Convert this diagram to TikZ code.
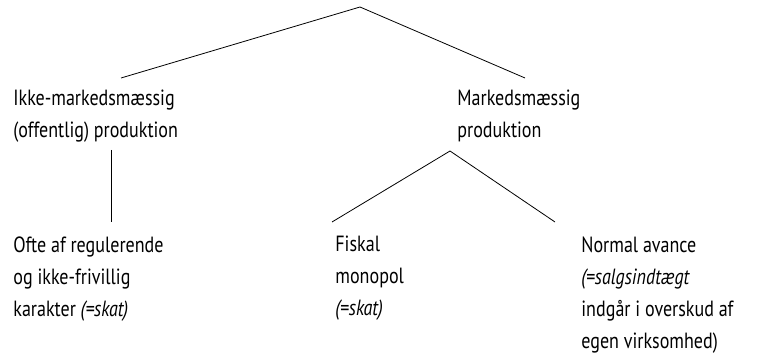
\documentclass[tikz,border=0pt]{standalone}
\usepackage{fontspec}
\setmainfont{PT Sans}[FakeStretch=0.82]
\usepackage{tikz}
\usetikzlibrary{positioning}

\begin{document}
\begin{tikzpicture}[x=1pt, y=-1pt, line width=0.8pt,
    label/.style={anchor=north west, inner sep=0pt, align=left,
        font=\fontsize{22}{32}\selectfont}]
    \useasboundingbox (0,0) rectangle (770,363);
    % Top of the tree
    \coordinate (top) at (360,7);

    % Second level
    \node[label] (ikke) at (13,90) {Ikke-markedsmæssig\\(offentlig) produktion};
    \node[label] (marked) at (457,90) {Markedsmæssig\\produktion};

    % Third level
    \node[label] (ofte) at (13,236) {Ofte af regulerende\\og ikke-frivillig\\karakter \textit{(=skat)}};
    \node[label] (fiskal) at (335,236) {Fiskal\\monopol\\\textit{(=skat)}};
    \node[label] (normal) at (581,236) {Normal avance\\\textit{(=salgsindtægt}\\indgår i overskud af\\egen virksomhed)};

    % Connections
    \draw (top) -- ([xshift=108pt,yshift=12pt]ikke.north west);
    \draw (top) -- ([xshift=68pt,yshift=12pt]marked.north west);
    \draw ([xshift=98pt,yshift=-60pt]ikke.north west) -- ([xshift=98pt,yshift=14pt]ofte.north west);
    \draw ([xshift=-7pt,yshift=-61pt]marked.north west) -- ([xshift=-3pt,yshift=14pt]fiskal.north west);
    \draw ([xshift=-7pt,yshift=-61pt]marked.north west) -- ([xshift=-26pt,yshift=14pt]normal.north west);
\end{tikzpicture}
\end{document}
